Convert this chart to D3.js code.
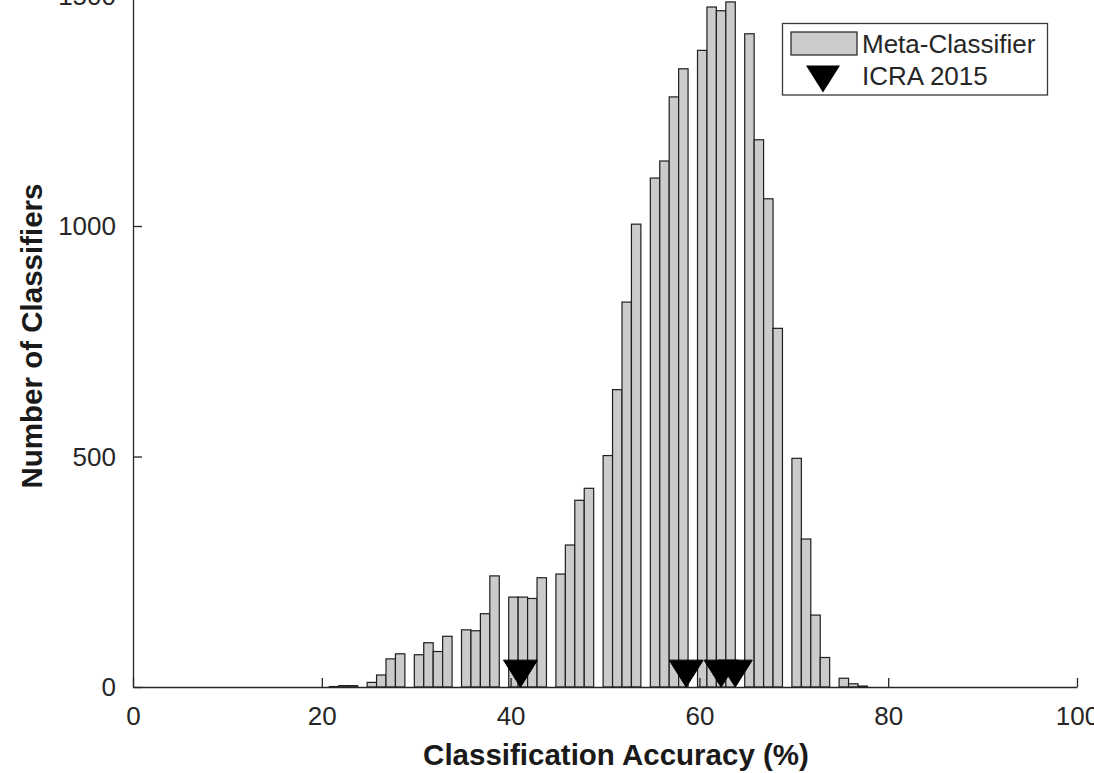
<!DOCTYPE html>
<html>
<head>
<meta charset="utf-8">
<script src="https://cdn.jsdelivr.net/npm/d3@7"></script>
<style>
  html, body { margin: 0; padding: 0; background: #fff; overflow: hidden; }
  svg { display: block; }
  text { font-family: "Liberation Sans", Arial, sans-serif; }
</style>
</head>
<body>
<svg id="chart" width="1094" height="773"></svg>
<script>
// ---- Data ----
// Left edges of histogram bins (% accuracy), bin width 1
const binLeft = [19.8, 20.8, 21.8, 22.8, 23.8, 24.8, 25.8, 26.8, 27.8, 28.8,
                 29.8, 30.8, 31.8, 32.8, 33.8, 34.8, 35.8, 36.8, 37.8, 38.8,
                 39.8, 40.8, 41.8, 42.8, 43.8, 44.8, 45.8, 46.8, 47.8, 48.8,
                 49.8, 50.8, 51.8, 52.8, 53.8, 54.8, 55.8, 56.8, 57.8, 58.8,
                 59.8, 60.8, 61.8, 62.8, 63.8, 64.8, 65.8, 66.8, 67.8, 68.8,
                 69.8, 70.8, 71.8, 72.8, 73.8, 74.8, 75.8, 76.8];
const binWidth = 1.0;
const metaCounts = [0, 1, 3, 3, 0, 10, 26, 61, 72, 0,
                    70, 96, 77, 110, 0, 124, 122, 159, 241, 0,
                    195, 195, 192, 237, 0, 245, 308, 405, 431, 0,
                    502, 645, 835, 1004, 0, 1104, 1141, 1280, 1341, 0,
                    1381, 1475, 1467, 1486, 0, 1417, 1187, 1059, 778, 0,
                    496, 321, 156, 64, 0, 19, 7, 2];
// ICRA 2015 classifier accuracies (markers)
const icraAccuracy = [41.05, 58.6, 62.3, 63.8];
const icraY = [29, 29, 29, 29];

const xTicks = [0, 20, 40, 60, 80, 100];
const yTicks = [0, 500, 1000, 1500];
const xLabel = "Classification Accuracy (%)";
const yLabel = "Number of Classifiers";
const legendLabels = ["Meta-Classifier", "ICRA 2015"];

// ---- Drawing ----
const svg = d3.select("#chart");
const axisColor = "#262626";
const barFill = "#cbcbcb";
const barStroke = "#1e1e1e";

const x = d3.scaleLinear().domain([0, 100]).range([133, 1077]);
const y = d3.scaleLinear().domain([0, 1500]).range([687, -4.5]);

const bins = binLeft.map((b, i) => ({ x0: b, x1: b + binWidth, v: metaCounts[i] }));

// bars
svg.append("g").selectAll("rect")
  .data(bins.filter(d => d.v > 0))
  .join("rect")
  .attr("x", d => x(d.x0))
  .attr("y", d => y(d.v))
  .attr("width", d => x(d.x1) - x(d.x0))
  .attr("height", d => y(0) - y(d.v))
  .attr("fill", barFill)
  .attr("stroke", barStroke)
  .attr("stroke-width", 1.2);

// axes
const fontSize = 26;
const xAxis = d3.axisBottom(x).tickValues(xTicks).tickFormat(d3.format("d"))
  .tickSizeInner(-9).tickSizeOuter(0).tickPadding(19.5);
const gx = svg.append("g").attr("transform", `translate(0,${y(0)})`).call(xAxis);
const yAxis = d3.axisLeft(y).tickValues(yTicks).tickFormat(d3.format("d"))
  .tickSizeInner(-9).tickSizeOuter(0).tickPadding(17);
const gy = svg.append("g").attr("transform", `translate(${x(0)},0)`).call(yAxis);

[gx, gy].forEach(g => {
  g.select(".domain").attr("stroke", axisColor).attr("stroke-width", 1.3);
  g.selectAll(".tick line").attr("stroke", axisColor).attr("stroke-width", 1.3);
  g.selectAll(".tick text")
    .attr("fill", axisColor)
    .style("font-size", fontSize + "px")
    .style("font-family", "'Liberation Sans', Arial, sans-serif");
});
gy.selectAll(".tick text").attr("dy", "0.34em");

// ICRA markers (downward triangles)
const triW = 34, triH = 27;
const triPath = (cx, cy, w, h) =>
  `M${cx - w / 2},${cy - h / 2} L${cx + w / 2},${cy - h / 2} L${cx},${cy + h / 2} Z`;
svg.append("g").selectAll("path")
  .data(icraAccuracy.map((a, i) => ({ a, v: icraY[i] })))
  .join("path")
  .attr("d", d => triPath(x(d.a), y(d.v), triW, triH))
  .attr("fill", "#000")
  .attr("stroke", "#000")
  .attr("stroke-width", 1);

// axis labels
svg.append("text")
  .attr("x", 616).attr("y", 765)
  .attr("text-anchor", "middle")
  .attr("fill", "#1a1a1a")
  .style("font-size", "29.5px").style("font-weight", "bold")
  .text(xLabel);

svg.append("text")
  .attr("transform", `translate(42,336) rotate(-90)`)
  .attr("text-anchor", "middle")
  .attr("fill", "#1a1a1a")
  .style("font-size", "29.5px").style("font-weight", "bold")
  .text(yLabel);

// legend
const lg = svg.append("g");
lg.append("rect")
  .attr("x", 782.5).attr("y", 23.5).attr("width", 265).attr("height", 71.5)
  .attr("fill", "#fff").attr("stroke", "#3a3a3a").attr("stroke-width", 1.3);
lg.append("rect")
  .attr("x", 791).attr("y", 32).attr("width", 66).attr("height", 23)
  .attr("fill", barFill).attr("stroke", barStroke).attr("stroke-width", 1.2);
lg.append("path")
  .attr("d", triPath(823, 79, 34, 27))
  .attr("fill", "#000");
lg.selectAll("text.leg")
  .data(legendLabels)
  .join("text")
  .attr("class", "leg")
  .attr("x", 862)
  .attr("y", (d, i) => 53 + i * 31.7)
  .attr("fill", axisColor)
  .style("font-size", fontSize + "px")
  .text(d => d);
</script>
</body>
</html>
